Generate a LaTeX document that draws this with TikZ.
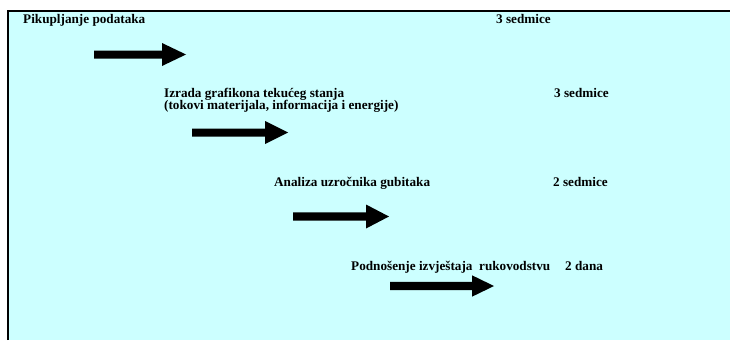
\documentclass[tikz,border=0pt]{standalone}
\usepackage{fontspec}
\setmainfont{Liberation Serif}
\definecolor{panel}{RGB}{204,255,255}
% block arrow: shaft start, head start, tip, centre line, shaft half-width, head half-height
\newcommand{\blockarrow}[6]{%
  \fill[black] (#1,#4-#5) -- (#2,#4-#5) -- (#2,#4-#6) -- (#3,#4)
    -- (#2,#4+#6) -- (#2,#4+#5) -- (#1,#4+#5) -- cycle;}
\begin{document}
\begin{tikzpicture}[x=1pt,y=-1pt,
  steptext/.style={anchor=base west, inner sep=0pt,
    font=\fontsize{13.2}{12.5}\selectfont\bfseries}]
\useasboundingbox (0,0) rectangle (730,340);
% panel
\fill[panel] (8,11) rectangle (730,340);
\draw[line width=2pt] (8,340) -- (8,11) -- (730,11);

% phase 1
\node[steptext] (t1) at (23,23.5) {Pikupljanje podataka};
\node[steptext] (d1) at (496,23.5) {3 sedmice};
\blockarrow{94}{162}{186}{54.5}{4}{11.5}

% phase 2
\node[steptext] (t2a) at (164,97) {Izrada grafikona tekućeg stanja};
\node[steptext] (t2b) at (164,109.5) {(tokovi materijala, informacija i energije)};
\node[steptext] (d2) at (554,97) {3 sedmice};
\blockarrow{192}{265}{288}{132.5}{4}{11.5}

% phase 3
\node[steptext] (t3) at (274,186) {Analiza uzročnika gubitaka};
\node[steptext] (d3) at (553,186) {2 sedmice};
\blockarrow{293}{366}{389}{216.5}{4.2}{12}

% phase 4
\node[steptext] (t4) at (351,270) {Podnošenje izvještaja\ \ rukovodstvu};
\node[steptext] (d4) at (565,270) {2 dana};
\blockarrow{390}{472}{494}{286}{4.2}{10.7}
\end{tikzpicture}
\end{document}
